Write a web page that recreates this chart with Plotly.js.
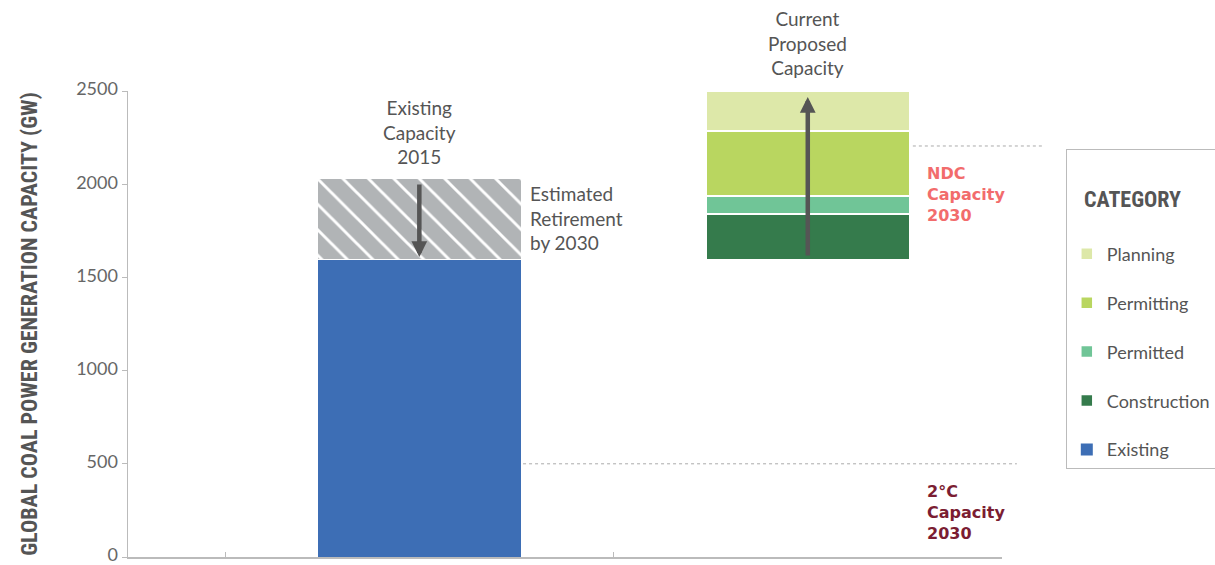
<!DOCTYPE html>
<html>
<head>
<meta charset="utf-8">
<script src="https://cdn.plot.ly/plotly-3.0.1.min.js"></script>
<style>html,body{margin:0;padding:0;background:#fff;}#chart{width:1215px;height:565px;}</style>
</head>
<body>
<div id="chart"></div>
<script>
// ---- data (GW) ----
const categories = ["Existing 2015", "Proposed"];
const existing = [1595, null];
const retirement = [433, null];          // estimated retirement by 2030 (hatched)
const proposedBase = [null, 1595];       // proposed capacity sits on post-retirement fleet
const construction = [null, 245];
const permitted = [null, 97];
const permitting = [null, 349];
const planning = [null, 214];
const refLevels = [2205, 500];           // NDC capacity 2030, 2°C capacity 2030
const yTicks = [0, 500, 1000, 1500, 2000, 2500];
const arrowDown = [2006, 1609];
const arrowUp = [1609, 2468];

const font = "Lato, 'Noto Sans', sans-serif";
const condensed = "'Roboto Condensed', Roboto, sans-serif";
const W = 0.524;
const line = {color: "white", width: 1.5};

const traces = [
  {type: "bar", x: categories, y: existing, name: "Existing", width: W,
   marker: {color: "#3d6eb5", line: {color: "white", width: 0}}, legendgroup: "e", legendrank: 5, hoverinfo: "skip"},
  {type: "bar", x: categories, y: retirement, name: "Retirement", width: W, showlegend: false,
   marker: {color: "#b1b4b6", line: {color: "white", width: 1},
            pattern: {shape: "\\", fillmode: "overlay", fgcolor: "white", fgopacity: 1, size: 18, solidity: 0.16}},
   hoverinfo: "skip"},
  {type: "bar", x: categories, y: proposedBase, name: "base", width: W, showlegend: false,
   marker: {color: "rgba(0,0,0,0)"}, hoverinfo: "skip"},
  {type: "bar", x: categories, y: construction, name: "Construction", width: W,
   marker: {color: "#357b4c", line: line}, legendgroup: "c", legendrank: 4, hoverinfo: "skip"},
  {type: "bar", x: categories, y: permitted, name: "Permitted", width: W,
   marker: {color: "#70c597", line: line}, legendgroup: "pd", legendrank: 3, hoverinfo: "skip"},
  {type: "bar", x: categories, y: permitting, name: "Permitting", width: W,
   marker: {color: "#b9d660", line: line}, legendgroup: "pg", legendrank: 2, hoverinfo: "skip"},
  {type: "bar", x: categories, y: planning, name: "Planning", width: W,
   marker: {color: "#dde8a9", line: line}, legendgroup: "pl", legendrank: 1, hoverinfo: "skip"}
];

const annFont = {family: font, size: 19, color: "#555"};
const labFont = {family: "'DejaVu Sans', sans-serif", size: 16, weight: "bold"};
const layout = {
  width: 1215, height: 565,
  margin: {l: 128, r: 213, t: 91, b: 8, autoexpand: false},
  paper_bgcolor: "white", plot_bgcolor: "white",
  barmode: "stack",
  bargap: 0,
  showlegend: true,
  font: {family: font, color: "#555"},
  xaxis: {
    type: "category", range: [-0.75, 1.5], showticklabels: false,
    tickson: "boundaries", ticks: "inside", ticklen: 5, tickcolor: "#bbb",
    showline: true, linecolor: "#bbb", linewidth: 1.5, showgrid: false, zeroline: false, fixedrange: true
  },
  yaxis: {
    range: [0, 2500], tickmode: "array", tickvals: yTicks, ticks: "outside", ticklen: 5,
    tickcolor: "#bbb", showline: true, linecolor: "#bbb", linewidth: 1.5, showgrid: false, zeroline: false,
    ticklabeloverflow: "allow", ticklabelshift: -2,
    tickfont: {family: font, size: 18, color: "#666"},
    title: {text: "GLOBAL COAL POWER GENERATION CAPACITY (GW)",
            font: {family: condensed, size: 22, weight: "bold", color: "#555"}, standoff: 32}
  },
  legend: {
    x: 1.073, xanchor: "left", y: 0.876, yanchor: "top",
    bordercolor: "#bbb", borderwidth: 1, bgcolor: "white",
    traceorder: "grouped", tracegroupgap: 22.5,
    font: {family: font, size: 18, color: "#555"},
    title: {text: "<span style='font-size:6px'> </span><br>\u00a0\u00a0\u00a0CATEGORY<br><span style='font-size:10px'> </span>",
            font: {family: condensed, size: 22, weight: "bold", color: "#555"}},
    itemwidth: 30, entrywidth: 150
  },
  shapes: [
    {type: "line", xref: "paper", yref: "y", x0: 0.898, x1: 1.047, y0: refLevels[0], y1: refLevels[0],
     line: {color: "#aaa", width: 1, dash: "dot"}},
    {type: "line", xref: "paper", yref: "y", x0: 0.452, x1: 1.017, y0: refLevels[1], y1: refLevels[1],
     line: {color: "#aaa", width: 1, dash: "dot"}}
  ],
  annotations: [
    {xref: "x", yref: "y", x: categories[0], y: existing[0] + retirement[0], yanchor: "bottom", yshift: 9,
     text: "Existing<br>Capacity<br>2015", showarrow: false, font: annFont, align: "center"},
    {xref: "x", yref: "y", x: categories[0], xshift: 109, y: existing[0] + retirement[0], yshift: -1, xanchor: "left", yanchor: "top",
     text: "Estimated<br>Retirement<br>by 2030", showarrow: false, font: annFont, align: "left"},
    {xref: "x", yref: "paper", x: categories[1], y: 1, yanchor: "bottom", yshift: 10,
     text: "Current<br>Proposed<br>Capacity", showarrow: false, font: annFont, align: "center"},
    {xref: "paper", yref: "y", x: 0.912, y: refLevels[0], yshift: -16, xanchor: "left", yanchor: "top",
     text: "NDC<br>Capacity<br>2030", showarrow: false, align: "left",
     font: Object.assign({color: "#f26c6c"}, labFont)},
    {xref: "paper", yref: "y", x: 0.912, y: refLevels[1], yshift: -16, xanchor: "left", yanchor: "top",
     text: "2°C<br>Capacity<br>2030", showarrow: false, align: "left",
     font: Object.assign({color: "#7b1d32"}, labFont)},
    {xref: "x", yref: "y", axref: "x", ayref: "y", x: categories[0], y: arrowDown[1], ax: categories[0], ay: arrowDown[0],
     text: "", showarrow: true, arrowhead: 2, arrowsize: 0.7, arrowwidth: 4.5, arrowcolor: "#555", standoff: 0},
    {xref: "x", yref: "y", axref: "x", ayref: "y", x: categories[1], y: arrowUp[1], ax: categories[1], ay: arrowUp[0],
     text: "", showarrow: true, arrowhead: 2, arrowsize: 0.7, arrowwidth: 4.5, arrowcolor: "#555", standoff: 0}
  ]
};

Plotly.newPlot("chart", traces, layout, {displayModeBar: false, staticPlot: true});
</script>
</body>
</html>
